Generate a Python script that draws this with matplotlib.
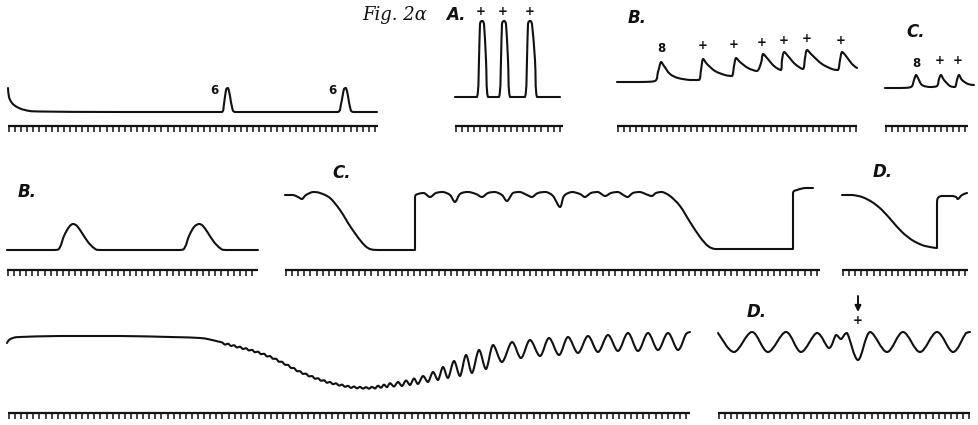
#!/usr/bin/env python3

# redraw of the kymograph plate "Fig. 2a" : muscle traces over time-marker combs

import numpy as np
import matplotlib

matplotlib.use("Agg")
import matplotlib.pyplot as plt
from matplotlib.path import Path
from matplotlib.patches import PathPatch

# ---- traces (x, y in picture pixels, y downwards) ----

# row 1, left : two single twitches marked "6"
trace1_x = [8, 9, 12, 17, 25, 40, 120, 222, 224, 226, 228, 230, 232, 235, 338, 341, 344, 346, 348, 350, 353, 377]
trace1_y = [88, 97, 103, 107, 110, 111.5, 112, 112, 104, 90, 88, 96, 107, 112, 112, 104, 89, 88, 96, 107, 112, 112]

# row 1, A : three tall contractions
traceA_x = [455, 477, 479, 480, 482, 484, 486, 488, 499, 501, 502, 504, 506, 508, 510, 525, 527, 528, 530, 532, 535, 537, 560]
traceA_y = [97, 97, 60, 24, 21, 24, 60, 97, 97, 60, 24, 21, 24, 60, 97, 97, 60, 24, 21, 24, 60, 97, 97]

# row 1, B : summing twitches
traceB_x = [617, 640, 655, 658, 661, 664, 670, 678, 690, 699, 701, 703, 707, 715, 725, 732, 734, 736, 740, 748,
            757, 761, 763, 767, 774, 781, 782, 784, 788, 795, 803, 805, 807, 812, 822, 832, 838, 840, 842, 846,
            852, 857]
traceB_y = [82, 82, 81, 72, 62, 66, 74, 78, 80, 80, 70, 59, 64, 71, 75, 76, 66, 58, 62, 68,
            71, 63, 54, 58, 66, 70, 60, 52, 56, 64, 69, 58, 50, 55, 64, 69, 70, 60, 52, 56,
            64, 68]

# row 1, C
traceC1_x = [885, 900, 911, 914, 916, 918, 922, 930, 937, 939, 941, 944, 950, 955, 957, 959, 962, 968, 974]
traceC1_y = [88, 88, 87, 80, 75, 78, 85, 87, 86, 79, 75, 80, 86, 87, 80, 75, 80, 84, 85]

# row 2, B
traceB2_x = [7, 55, 60, 64, 69, 73, 77, 82, 88, 94, 100, 180, 185, 189, 194, 199, 203, 208, 214, 220, 226, 258]
traceB2_y = [250, 250, 247, 236, 227, 224, 226, 233, 242, 248, 250, 250, 247, 236, 227, 224, 226, 233, 242, 248, 250, 250]

# row 2, C : long contracture with scalloped top
traceC2_x = [285, 293, 298, 302, 306, 313, 320, 330, 340, 350, 360, 368, 378, 415, 415, 418, 424, 430, 436, 443,
             450, 455, 460, 468, 476, 482, 488, 495, 502, 507, 513, 520, 527, 532, 538, 546, 553, 560, 564, 572,
             580, 585, 591, 598, 605, 611, 618, 625, 628, 633, 640, 648, 652, 656, 662, 670, 680, 690, 700, 708,
             715, 725, 793, 793, 797, 805, 813]
traceC2_y = [195, 195, 197, 199, 195, 192, 193, 198, 210, 226, 240, 248, 250, 250, 197, 194, 193, 197, 193, 192,
             195, 202, 194, 192, 194, 197, 193, 192, 195, 201, 193, 192, 195, 197, 193, 192, 196, 207, 196, 192,
             194, 197, 193, 192, 196, 193, 192, 196, 197, 193, 192, 195, 196, 193, 192, 196, 206, 222, 237, 246,
             249, 249, 249, 193, 190, 188, 188]

# row 2, D
traceD2_x = [842, 852, 862, 872, 882, 892, 902, 912, 922, 930, 937, 937, 938, 942, 952, 956, 958, 962, 967]
traceD2_y = [195, 195, 197, 202, 210, 221, 232, 240, 245, 247, 248, 205, 198, 196, 196, 197, 199, 195, 193]

# row 3, left : slow fall, fine tremor, then growing oscillation
trace3_x = [7, 9, 13, 20, 60, 120, 170, 200, 212, 218,
            222, 225, 228, 231, 234, 237, 240, 243, 246, 249, 252, 255, 258, 261, 264, 267, 270, 273, 276, 279,
            282, 285, 288, 291, 294, 297, 300, 303, 306, 309, 312, 315, 318, 321, 324, 327, 330, 333, 336, 339,
            342, 345, 348, 351, 354, 357, 360, 363, 366, 369, 372, 375, 378, 381, 384, 387, 390,
            394, 398, 402, 406, 410, 414, 418, 423, 428, 433, 438, 443, 448, 454, 460, 466, 472, 479, 486, 493,
            502, 512, 521, 530, 540, 549, 559, 568, 578, 588, 598, 608, 618, 628, 638, 648, 658, 668, 678, 686, 690]
trace3_y = [343, 340, 338, 337, 336, 336, 337, 338, 340, 341.5,
            342.4, 344.6, 343.7, 346.0, 345.2, 347.5, 346.7, 349.0, 348.2, 350.5, 349.8, 352.3, 351.6, 354.2,
            353.7, 356.5, 356.0, 358.8, 358.7, 361.8, 361.7, 364.8, 364.8, 368.0, 368.0, 371.2, 371.2, 374.0,
            373.6, 376.4, 376.0, 378.8, 378.2, 380.8, 380.2, 382.8, 381.9, 384.2, 383.3, 385.6, 384.6, 386.8,
            385.8, 387.9, 386.5, 388.3, 386.9, 388.6, 387.2, 388.7, 386.9, 388.5, 385.7, 387.8, 384.6, 387.2, 383.2,
            386.5, 382, 386, 380.5, 385, 378.5, 384, 376, 382, 372, 380, 367, 378, 361, 376, 355, 373, 350, 369, 345,
            362, 342, 358, 340, 356, 338, 355, 337, 353, 336, 352, 335, 351, 333, 351, 333, 350, 333, 350, 334, 332]

# row 3, D : steady oscillation with one extra beat at the marker
traceD3_x = [718, 734, 752, 768, 786, 801, 817, 829, 836, 841, 847, 858, 870, 887, 903, 920, 937, 953, 966, 970]
traceD3_y = [333, 352, 332, 352, 332, 352, 333, 348, 335, 339, 333, 360, 332, 352, 332, 352, 332, 352, 333, 332]

# ---- time markers : (start, end, y) ----
combs = [(8, 378, 126), (455, 563, 126), (617, 857, 126), (885, 968, 126),
         (7, 258, 270), (285, 820, 270), (842, 968, 270),
         (8, 690, 413), (718, 970, 413)]
comb_step = 6.1

# ---- lettering ----
panel_labels = [("B.", 628, 18), ("C.", 906, 32), ("B.", 18, 192), ("C.", 332, 173),
                ("D.", 873, 172), ("D.", 747, 312)]
stim_marks = [("6", 214, 90), ("6", 332, 90),
              ("+", 481, 11), ("+", 503, 11), ("+", 530, 11),
              ("8", 661, 48), ("+", 703, 45), ("+", 734, 44), ("+", 762, 42), ("+", 784, 40),
              ("+", 807, 38), ("+", 841, 40),
              ("8", 916, 63), ("+", 940, 60), ("+", 958, 60),
              ("+", 858, 320)]

INK = "#111111"


def smoothPath(xs, ys):
    """bezier path through the points, control points kept inside each segment box"""
    p = np.column_stack([xs, ys]).astype(float)
    n = len(p)
    verts = [p[0]]
    codes = [Path.MOVETO]
    for i in range(n - 1):
        p0 = p[i - 1] if i > 0 else p[i]
        p3 = p[i + 2] if i + 2 < n else p[i + 1]
        c1 = p[i] + (p[i + 1] - p0) / 6.0
        c2 = p[i + 1] - (p3 - p[i]) / 6.0
        lo = np.minimum(p[i], p[i + 1])
        hi = np.maximum(p[i], p[i + 1])
        verts += [np.clip(c1, lo, hi), np.clip(c2, lo, hi), p[i + 1]]
        codes += [Path.CURVE4] * 3
    return Path(verts, codes)


# end of smoothPath()


def drawComb(ax, x0, x1, y):
    """time marker : a line with small teeth hanging down"""
    ax.hlines(y, x0, x1, color=INK, lw=1.6)
    teeth = np.arange(x0 + 1, x1, comb_step)
    ax.vlines(teeth, y, y + 5.5, color=INK, lw=1.1)


# end of drawComb()


def begin():
    fig = plt.figure(figsize=(9.79, 4.25), dpi=100)
    ax = fig.add_axes([0, 0, 1, 1])
    ax.set_xlim(0, 979)
    ax.set_ylim(425, 0)
    ax.axis("off")

    traces = [(trace1_x, trace1_y), (traceA_x, traceA_y), (traceB_x, traceB_y),
              (traceC1_x, traceC1_y), (traceB2_x, traceB2_y), (traceC2_x, traceC2_y),
              (traceD2_x, traceD2_y), (trace3_x, trace3_y), (traceD3_x, traceD3_y)]
    for xs, ys in traces:
        ax.add_patch(PathPatch(smoothPath(xs, ys), fill=False, ec=INK, lw=1.5,
                               capstyle="round", joinstyle="round"))

    for x0, x1, y in combs:
        drawComb(ax, x0, x1, y)

    # title
    ax.text(362, 15, "Fig. 2\u03b1", fontsize=13, family="DejaVu Serif", style="italic",
            color=INK, va="center", ha="left")
    ax.text(446, 15, "A.", fontsize=12, weight="bold", style="italic", color=INK,
            va="center", ha="left")

    for s, x, y in panel_labels:
        ax.text(x, y, s, fontsize=12, weight="bold", style="italic", color=INK,
                va="center", ha="left")

    for s, x, y in stim_marks:
        ax.text(x, y, s, fontsize=8.5, weight="bold", color=INK, va="center", ha="center")

    # marker arrow over the extra beat
    ax.annotate("", xy=(858, 312), xytext=(858, 296),
                arrowprops=dict(arrowstyle="-|>", color=INK, lw=1.4, mutation_scale=9,
                                shrinkA=0, shrinkB=0))

    fig.savefig("out.png", dpi=100, facecolor="white")


# end of begin()

if __name__ == "__main__":
    begin()
